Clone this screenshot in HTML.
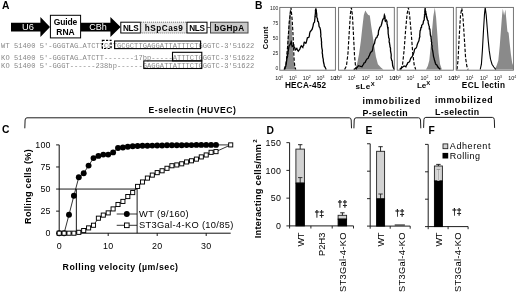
<!DOCTYPE html>
<html><head><meta charset="utf-8"><title>Figure</title>
<style>html,body{margin:0;padding:0;background:#fff}svg{display:block}</style></head>
<body>
<svg width="520" height="294" viewBox="0 0 520 294">
<rect width="520" height="294" fill="#fff"/>
<text x="2" y="9.4" font-family='"Liberation Sans", sans-serif' font-size="10.3" font-weight="bold" text-anchor="start" fill="#000" >A</text>
<polygon points="11,22.8 40.4,22.8 40.4,17 50,27.1 40.4,37.1 40.4,31.6 11,31.6" fill="#000"/>
<text x="28" y="30.3" font-family='"Liberation Sans", sans-serif' font-size="9.3" font-weight="normal" text-anchor="middle" fill="#fff" >U6</text>
<rect x="50.4" y="15.3" width="30.2" height="22.6" fill="#fff" stroke="#000" stroke-width="1"/>
<text x="65.5" y="24.8" font-family='"Liberation Sans", sans-serif' font-size="8.5" font-weight="bold" text-anchor="middle" fill="#000" textLength="23.5" lengthAdjust="spacing" >Guide</text>
<text x="65.5" y="35.2" font-family='"Liberation Sans", sans-serif' font-size="8.5" font-weight="bold" text-anchor="middle" fill="#000" textLength="18.5" lengthAdjust="spacing" >RNA</text>
<polygon points="81,22.8 110.4,22.8 110.4,17 120.6,27.1 110.4,37.1 110.4,31.6 81,31.6" fill="#000"/>
<text x="98" y="30.3" font-family='"Liberation Sans", sans-serif' font-size="9" font-weight="normal" text-anchor="middle" fill="#fff" >CBh</text>
<rect x="120.8" y="22.2" width="19.6" height="10.8" fill="#fff" stroke="#000" stroke-width="1"/>
<text x="130.8" y="30.8" font-family='"Liberation Sans", sans-serif' font-size="8.2" font-weight="bold" text-anchor="middle" fill="#000" textLength="15.7" lengthAdjust="spacing" >NLS</text>
<rect x="140.9" y="22.2" width="45.8" height="10.8" fill="#e6e6e6" stroke="#555" stroke-width="0.9" stroke-dasharray="1 1"/>
<text x="163.8" y="30.8" font-family='"Liberation Sans", sans-serif' font-size="8.2" font-weight="bold" text-anchor="middle" fill="#000" textLength="38" lengthAdjust="spacing" >hSpCas9</text>
<rect x="187" y="22.2" width="20" height="10.8" fill="#fff" stroke="#000" stroke-width="1"/>
<text x="197" y="30.8" font-family='"Liberation Sans", sans-serif' font-size="8.2" font-weight="bold" text-anchor="middle" fill="#000" textLength="15.7" lengthAdjust="spacing" >NLS</text>
<line x1="207" y1="27.5" x2="210.5" y2="27.5" stroke="#333" stroke-width="0.8"/>
<rect x="210.5" y="22.2" width="37.5" height="10.8" fill="#c8c8c8" stroke="#444" stroke-width="1"/>
<text x="229.2" y="30.8" font-family='"Liberation Sans", sans-serif' font-size="8.2" font-weight="bold" text-anchor="middle" fill="#000" textLength="30" lengthAdjust="spacing" >bGHpA</text>
<text x="1.1" y="48.2" font-family='"Liberation Mono", monospace' font-size="7.1" font-weight="normal" text-anchor="start" fill="#888" textLength="253.1" lengthAdjust="spacing" >WT 51400 5'-GGGTAG…ATCTTCCTGCGCTTGAGGATTATTTCTGGGTC-3'51622</text>
<text x="1.1" y="60.0" font-family='"Liberation Mono", monospace' font-size="7.1" font-weight="normal" text-anchor="start" fill="#888" textLength="253.1" lengthAdjust="spacing" >KO 51400 5'-GGGTAG…ATCTT-------17bp-----ATTTCTGGGTC-3'51622</text>
<text x="1.1" y="68.3" font-family='"Liberation Mono", monospace' font-size="7.1" font-weight="normal" text-anchor="start" fill="#888" textLength="253.1" lengthAdjust="spacing" >KO 51400 5'-GGGT------238bp------GAGGATTATTTCTGGGTC-3'51622</text>
<rect x="102.4" y="40.3" width="8.6" height="8.2" fill="none" stroke="#000" stroke-width="1.2" stroke-dasharray="2.2 1.4"/>
<rect x="114.6" y="41" width="86" height="7.6" fill="none" stroke="#000" stroke-width="1.1"/>
<rect x="172.5" y="52.3" width="29.3" height="8.6" fill="none" stroke="#000" stroke-width="1.1"/>
<rect x="143.8" y="60.9" width="58" height="7.6" fill="none" stroke="#000" stroke-width="1.1"/>
<text x="255" y="9.4" font-family='"Liberation Sans", sans-serif' font-size="10.3" font-weight="bold" text-anchor="start" fill="#000" >B</text>
<text x="267.6" y="37.8" font-family='"Liberation Sans", sans-serif' font-size="7.4" font-weight="bold" text-anchor="middle" fill="#000" textLength="22.7" lengthAdjust="spacing" transform="rotate(-90 267.6 37.8)" >Count</text>
<text x="278.4" y="9.700000000000006" font-family='"Liberation Sans", sans-serif' font-size="5" font-weight="normal" text-anchor="end" fill="#222" >100</text>
<text x="278.4" y="24.775000000000002" font-family='"Liberation Sans", sans-serif' font-size="5" font-weight="normal" text-anchor="end" fill="#222" >75</text>
<text x="278.4" y="39.85" font-family='"Liberation Sans", sans-serif' font-size="5" font-weight="normal" text-anchor="end" fill="#222" >50</text>
<text x="278.4" y="54.925" font-family='"Liberation Sans", sans-serif' font-size="5" font-weight="normal" text-anchor="end" fill="#222" >25</text>
<text x="278.4" y="70.0" font-family='"Liberation Sans", sans-serif' font-size="5" font-weight="normal" text-anchor="end" fill="#222" >0</text>
<polygon points="283.4,69.5 285.2,66.0 286.7,54.2 288.0,32.7 289.2,15.1 290.2,7.6 291.2,17.6 292.2,35.3 293.2,54.2 294.3,65.0 295.5,69.5" fill="#8a8a8a"/>
<polyline points="284.7,69.5 286.2,63.0 287.7,45.3 289.2,22.7 291.0,7.6 292.2,20.2 293.2,37.8 294.0,57.9 294.8,66.8 295.8,69.5" fill="none" stroke="#000" stroke-width="1.15" stroke-dasharray="3.4 1.7"/>
<polyline points="284.2,69.5 284.8,68.3 285.2,66.8 285.9,66.0 285.9,65.0 286.3,63.4 286.6,61.0 286.8,59.6 286.8,58.3 287.2,57.9 287.6,56.3 287.5,54.2 288.1,53.9 288.0,52.3 288.1,51.8 288.4,50.1 288.7,47.9 289.2,45.6 290.0,44.8 290.8,42.8 291.2,41.6 291.6,42.5 291.8,45.2 292.2,46.6 293.8,45.3 294.0,47.0 294.6,47.4 295.3,49.9 296.8,48.4 297.5,50.1 298.3,51.1 299.8,49.1 300.6,47.1 301.3,45.8 302.8,47.4 303.1,46.0 303.7,45.5 304.0,43.0 304.3,42.3 305.8,43.3 306.4,42.0 306.5,41.1 306.8,40.2 307.4,37.8 308.9,37.3 309.4,35.7 309.6,33.6 310.1,31.9 310.4,31.5 311.9,29.7 312.3,28.9 312.6,27.7 313.1,25.8 313.4,23.9 313.8,22.8 314.5,22.2 314.7,20.2 314.9,18.8 315.0,16.6 315.3,16.5 315.1,15.6 315.4,13.3 315.5,11.2 315.4,10.2 315.9,8.7 315.9,8.3 315.9,8.8 316.4,10.7 316.3,11.4 316.7,13.7 316.8,15.7 316.7,15.8 316.9,17.6 317.5,18.6 317.6,21.2 318.2,21.4 318.4,22.1 318.8,23.7 319.0,26.0 319.4,27.2 319.9,27.6 320.5,30.2 320.6,31.4 320.8,34.1 320.9,34.5 320.7,36.3 321.2,38.2 321.4,39.6 321.3,39.9 321.5,41.6 321.6,42.1 321.5,43.4 321.6,45.1 321.7,46.8 321.8,47.5 322.1,49.1 322.4,50.3 322.2,53.0 322.5,54.2 322.6,55.1 322.7,56.8 323.3,59.3 323.3,60.0 323.3,60.6 323.7,63.0 324.0,64.0 324.4,66.4 325.0,67.0 325.6,68.3 326.2,69.5" fill="none" stroke="#000" stroke-width="1.3"/>
<polygon points="354.5,69.5 357.0,64.2 359.0,54.2 360.8,41.6 362.3,27.7 363.8,15.1 365.3,10.6 366.8,13.1 368.3,15.1 369.8,15.6 371.1,25.2 372.6,35.3 374.1,45.3 375.9,56.7 377.9,64.2 380.9,67.5 383.4,69.5" fill="#8a8a8a"/>
<polyline points="344.6,69.5 346.4,66.0 347.9,54.2 349.2,32.7 350.4,13.9 351.4,7.6 352.4,15.1 353.5,35.3 354.5,55.4 355.5,66.0 356.7,69.5" fill="none" stroke="#000" stroke-width="1.15" stroke-dasharray="3.4 1.7"/>
<polyline points="353.7,69.5 355.3,68.5 357.0,67.5 358.5,65.7 359.5,66.0 360.6,66.4 362.0,66.8 362.5,65.6 363.6,64.3 364.0,63.0 365.1,62.5 366.0,60.5 367.0,58.9 368.1,58.4 368.8,56.3 369.4,55.7 369.8,54.2 370.6,52.5 371.6,51.6 372.2,51.1 372.5,49.9 372.8,48.6 373.1,46.6 373.9,44.4 374.6,43.3 374.8,41.6 375.3,39.5 375.8,38.6 376.1,37.8 376.9,37.5 377.6,35.3 378.3,34.8 378.3,33.5 378.6,30.5 379.1,29.7 379.8,27.4 380.7,26.4 381.2,25.5 381.4,24.7 381.9,23.0 382.2,21.4 382.9,19.2 383.4,18.9 383.9,18.5 384.1,16.9 384.4,15.1 384.8,16.0 385.1,17.9 385.1,20.9 385.4,21.4 386.4,20.2 387.0,21.6 387.0,24.0 387.5,25.2 387.4,25.8 387.9,29.0 388.1,28.7 388.1,32.0 388.2,32.1 388.1,33.0 388.5,35.3 388.7,37.8 389.1,38.3 389.3,39.7 389.1,42.0 389.5,42.8 389.6,43.8 389.9,45.3 390.0,46.8 390.5,48.1 390.5,50.4 390.6,51.5 391.0,53.4 391.2,54.5 391.2,56.1 391.1,57.6 391.4,58.9 391.7,60.5 392.2,60.9 392.4,62.9 392.7,65.7 393.0,66.8 393.6,68.1 394.3,69.5" fill="none" stroke="#000" stroke-width="1.3"/>
<polygon points="426.0,69.5 427.8,66.0 429.3,60.5 430.8,45.3 432.1,30.2 433.3,16.4 434.8,7.6 436.1,17.6 437.4,35.3 438.6,52.9 440.1,64.2 441.9,69.5" fill="#8a8a8a"/>
<polyline points="400.8,69.5 402.6,64.2 404.1,50.4 405.6,30.2 407.1,13.9 408.4,7.6 409.6,15.1 411.2,32.7 412.7,52.9 414.2,65.0 415.7,69.5" fill="none" stroke="#000" stroke-width="1.15" stroke-dasharray="3.4 1.7"/>
<polyline points="399.6,69.5 400.8,68.5 402.1,67.5 404.1,66.0 405.9,66.8 406.5,65.1 407.2,64.4 407.6,63.0 409.6,61.7 410.3,59.4 410.7,58.3 411.4,57.4 412.3,56.4 413.2,54.2 413.7,53.0 413.9,52.5 414.3,50.6 414.7,49.1 416.2,47.9 416.8,46.4 417.2,44.7 417.7,43.3 418.4,41.8 418.9,40.9 419.2,39.0 419.3,38.5 419.9,36.2 419.7,35.4 420.0,32.3 420.1,30.8 420.5,30.2 421.0,27.6 421.5,27.5 421.7,25.2 423.0,23.9 423.4,21.6 423.4,21.1 424.2,20.0 424.3,17.6 424.6,15.6 424.5,14.7 424.9,14.6 424.8,11.4 424.9,10.8 425.0,8.8 425.3,8.1 425.2,9.9 425.6,11.0 425.7,11.2 425.9,13.9 426.3,14.0 426.3,16.4 426.9,18.3 427.0,18.0 427.5,20.2 428.1,20.8 428.2,23.0 428.8,25.2 429.3,26.6 429.3,29.0 429.9,29.1 430.1,31.5 430.3,33.1 430.2,33.5 430.6,36.2 431.0,36.3 431.1,39.0 431.3,39.2 431.3,41.6 431.7,42.1 431.6,44.4 432.2,46.1 432.0,46.9 432.2,49.0 432.6,50.4 432.7,50.9 432.9,52.1 433.2,54.0 433.5,56.3 433.7,57.1 434.1,58.4 434.3,59.6 434.7,60.8 435.4,63.3 435.8,64.2 436.8,64.9 437.9,67.0 439.1,68.3 440.4,69.5" fill="none" stroke="#000" stroke-width="1.3"/>
<polygon points="494.5,69.5 496.5,66.0 498.3,60.5 499.8,45.3 501.1,27.7 502.1,15.1 502.8,8.8 504.1,15.6 505.4,9.6 506.4,20.2 507.4,31.5 508.6,32.7 509.6,42.8 510.9,54.2 512.2,63.0 513.4,66.0 513.4,69.5" fill="#8a8a8a"/>
<polyline points="457.0,69.5 458.0,60.5 459.3,35.3 460.5,15.1 461.8,8.3 463.0,17.6 464.3,37.8 465.6,57.9 466.8,66.0 468.1,69.5" fill="none" stroke="#000" stroke-width="1.15" stroke-dasharray="3.4 1.7"/>
<polyline points="480.2,69.5 481.4,64.2 482.4,50.4 483.5,30.2 484.5,13.9 485.2,7.6 486.2,15.1 487.2,27.7 488.2,40.3 489.2,50.4 490.5,59.2 492.0,64.2 493.8,67.0 495.8,69.5" fill="none" stroke="#000" stroke-width="1.1"/>
<rect x="279.8" y="7.4" width="55.6" height="62.8" fill="none" stroke="#666" stroke-width="0.9"/>
<text x="279.2" y="79.6" font-family='"Liberation Sans", sans-serif' font-size="5.4" text-anchor="middle" fill="#111">10<tspan dy="-1.9" font-size="3.4">0</tspan></text>
<text x="292.9" y="79.6" font-family='"Liberation Sans", sans-serif' font-size="5.4" text-anchor="middle" fill="#111">10<tspan dy="-1.9" font-size="3.4">1</tspan></text>
<text x="306.7" y="79.6" font-family='"Liberation Sans", sans-serif' font-size="5.4" text-anchor="middle" fill="#111">10<tspan dy="-1.9" font-size="3.4">2</tspan></text>
<text x="320.4" y="79.6" font-family='"Liberation Sans", sans-serif' font-size="5.4" text-anchor="middle" fill="#111">10<tspan dy="-1.9" font-size="3.4">3</tspan></text>
<text x="334.2" y="79.6" font-family='"Liberation Sans", sans-serif' font-size="5.4" text-anchor="middle" fill="#111">10<tspan dy="-1.9" font-size="3.4">4</tspan></text>
<rect x="338.6" y="7.4" width="55.7" height="62.8" fill="none" stroke="#666" stroke-width="0.9"/>
<text x="338.0" y="79.6" font-family='"Liberation Sans", sans-serif' font-size="5.4" text-anchor="middle" fill="#111">10<tspan dy="-1.9" font-size="3.4">0</tspan></text>
<text x="351.8" y="79.6" font-family='"Liberation Sans", sans-serif' font-size="5.4" text-anchor="middle" fill="#111">10<tspan dy="-1.9" font-size="3.4">1</tspan></text>
<text x="365.6" y="79.6" font-family='"Liberation Sans", sans-serif' font-size="5.4" text-anchor="middle" fill="#111">10<tspan dy="-1.9" font-size="3.4">2</tspan></text>
<text x="379.3" y="79.6" font-family='"Liberation Sans", sans-serif' font-size="5.4" text-anchor="middle" fill="#111">10<tspan dy="-1.9" font-size="3.4">3</tspan></text>
<text x="393.1" y="79.6" font-family='"Liberation Sans", sans-serif' font-size="5.4" text-anchor="middle" fill="#111">10<tspan dy="-1.9" font-size="3.4">4</tspan></text>
<rect x="397.2" y="7.4" width="56.2" height="62.8" fill="none" stroke="#666" stroke-width="0.9"/>
<text x="396.6" y="79.6" font-family='"Liberation Sans", sans-serif' font-size="5.4" text-anchor="middle" fill="#111">10<tspan dy="-1.9" font-size="3.4">0</tspan></text>
<text x="410.5" y="79.6" font-family='"Liberation Sans", sans-serif' font-size="5.4" text-anchor="middle" fill="#111">10<tspan dy="-1.9" font-size="3.4">1</tspan></text>
<text x="424.4" y="79.6" font-family='"Liberation Sans", sans-serif' font-size="5.4" text-anchor="middle" fill="#111">10<tspan dy="-1.9" font-size="3.4">2</tspan></text>
<text x="438.3" y="79.6" font-family='"Liberation Sans", sans-serif' font-size="5.4" text-anchor="middle" fill="#111">10<tspan dy="-1.9" font-size="3.4">3</tspan></text>
<text x="452.2" y="79.6" font-family='"Liberation Sans", sans-serif' font-size="5.4" text-anchor="middle" fill="#111">10<tspan dy="-1.9" font-size="3.4">4</tspan></text>
<rect x="456.2" y="7.4" width="57.2" height="62.8" fill="none" stroke="#666" stroke-width="0.9"/>
<text x="455.6" y="79.6" font-family='"Liberation Sans", sans-serif' font-size="5.4" text-anchor="middle" fill="#111">10<tspan dy="-1.9" font-size="3.4">0</tspan></text>
<text x="469.7" y="79.6" font-family='"Liberation Sans", sans-serif' font-size="5.4" text-anchor="middle" fill="#111">10<tspan dy="-1.9" font-size="3.4">1</tspan></text>
<text x="483.9" y="79.6" font-family='"Liberation Sans", sans-serif' font-size="5.4" text-anchor="middle" fill="#111">10<tspan dy="-1.9" font-size="3.4">2</tspan></text>
<text x="498.0" y="79.6" font-family='"Liberation Sans", sans-serif' font-size="5.4" text-anchor="middle" fill="#111">10<tspan dy="-1.9" font-size="3.4">3</tspan></text>
<text x="512.2" y="79.6" font-family='"Liberation Sans", sans-serif' font-size="5.4" text-anchor="middle" fill="#111">10<tspan dy="-1.9" font-size="3.4">4</tspan></text>
<text x="305.5" y="87.5" font-family='"Liberation Sans", sans-serif' font-size="8.2" font-weight="bold" text-anchor="middle" fill="#000" textLength="41" lengthAdjust="spacing" >HECA-452</text>
<text x="355.4" y="89.1" font-family='"Liberation Sans", sans-serif' font-size="8.1" font-weight="bold" fill="#000" textLength="19.2" lengthAdjust="spacing">sLe<tspan dy="-2.9" font-size="5.9">X</tspan></text>
<text x="416.9" y="88.1" font-family='"Liberation Sans", sans-serif' font-size="8.1" font-weight="bold" fill="#000" textLength="13.2" lengthAdjust="spacing">Le<tspan dy="-2.9" font-size="5.9">X</tspan></text>
<text x="483.4" y="87.5" font-family='"Liberation Sans", sans-serif' font-size="8.2" font-weight="bold" text-anchor="middle" fill="#000" textLength="43.2" lengthAdjust="spacing" >ECL lectin</text>
<text x="192.2" y="112.6" font-family='"Liberation Sans", sans-serif' font-size="8.6" font-weight="bold" text-anchor="middle" fill="#000" textLength="87.3" lengthAdjust="spacing" >E-selectin (HUVEC)</text>
<text x="362.4" y="104" font-family='"Liberation Sans", sans-serif' font-size="8.8" font-weight="bold" text-anchor="start" fill="#000" textLength="57.9" lengthAdjust="spacing" >immobilized</text>
<text x="362.4" y="115.6" font-family='"Liberation Sans", sans-serif' font-size="8.8" font-weight="bold" text-anchor="start" fill="#000" textLength="45.3" lengthAdjust="spacing" >P-selectin</text>
<text x="435" y="103.3" font-family='"Liberation Sans", sans-serif' font-size="8.8" font-weight="bold" text-anchor="start" fill="#000" textLength="57.6" lengthAdjust="spacing" >immobilized</text>
<text x="435" y="115.3" font-family='"Liberation Sans", sans-serif' font-size="8.8" font-weight="bold" text-anchor="start" fill="#000" textLength="44.1" lengthAdjust="spacing" >L-selectin</text>
<path d="M24.8,128.3 L25.1,120.0 Q25.3,117.8 27.0,117.8 L349.3,117.8 Q351.0,117.8 351.2,120.0 L351.5,128.3" fill="none" stroke="#111" stroke-width="0.95"/>
<path d="M353.9,128.3 L354.2,120.0 Q354.4,117.8 356.09999999999997,117.8 L418.6,117.8 Q420.3,117.8 420.5,120.0 L420.8,128.3" fill="none" stroke="#111" stroke-width="0.95"/>
<path d="M423.6,127.9 L423.90000000000003,119.60000000000001 Q424.1,117.4 425.8,117.4 L492.40000000000003,117.4 Q494.1,117.4 494.3,119.60000000000001 L494.6,127.9" fill="none" stroke="#111" stroke-width="0.95"/>
<text x="2" y="133.2" font-family='"Liberation Sans", sans-serif' font-size="10.3" font-weight="bold" text-anchor="start" fill="#000" >C</text>
<path d="M59.2,144.89999999999998 L59.2,233.2 L230.7,233.2" fill="none" stroke="#000" stroke-width="0.95"/>
<line x1="56.1" y1="233.2" x2="59.2" y2="233.2" stroke="#000" stroke-width="0.9"/>
<text x="50.4" y="236.39999999999998" font-family='"Liberation Sans", sans-serif' font-size="8.9" font-weight="normal" text-anchor="end" fill="#000" >0</text>
<line x1="56.1" y1="211.125" x2="59.2" y2="211.125" stroke="#000" stroke-width="0.9"/>
<text x="50.4" y="214.325" font-family='"Liberation Sans", sans-serif' font-size="8.9" font-weight="normal" text-anchor="end" fill="#000" textLength="10.0" lengthAdjust="spacing" >25</text>
<line x1="56.1" y1="189.04999999999998" x2="59.2" y2="189.04999999999998" stroke="#000" stroke-width="0.9"/>
<text x="50.4" y="192.24999999999997" font-family='"Liberation Sans", sans-serif' font-size="8.9" font-weight="normal" text-anchor="end" fill="#000" textLength="10.0" lengthAdjust="spacing" >50</text>
<line x1="56.1" y1="166.975" x2="59.2" y2="166.975" stroke="#000" stroke-width="0.9"/>
<text x="50.4" y="170.17499999999998" font-family='"Liberation Sans", sans-serif' font-size="8.9" font-weight="normal" text-anchor="end" fill="#000" textLength="10.0" lengthAdjust="spacing" >75</text>
<line x1="56.1" y1="144.89999999999998" x2="59.2" y2="144.89999999999998" stroke="#000" stroke-width="0.9"/>
<text x="50.4" y="148.09999999999997" font-family='"Liberation Sans", sans-serif' font-size="8.9" font-weight="normal" text-anchor="end" fill="#000" textLength="15.1" lengthAdjust="spacing" >100</text>
<line x1="108.2" y1="233.2" x2="108.2" y2="236.0" stroke="#000" stroke-width="0.9"/>
<line x1="157.2" y1="233.2" x2="157.2" y2="236.0" stroke="#000" stroke-width="0.9"/>
<line x1="206.2" y1="233.2" x2="206.2" y2="236.0" stroke="#000" stroke-width="0.9"/>
<text x="59.2" y="248.6" font-family='"Liberation Sans", sans-serif' font-size="8.9" font-weight="normal" text-anchor="middle" fill="#000" >0</text>
<text x="108.2" y="248.6" font-family='"Liberation Sans", sans-serif' font-size="8.9" font-weight="normal" text-anchor="middle" fill="#000" textLength="10.2" lengthAdjust="spacing" >10</text>
<text x="157.2" y="248.6" font-family='"Liberation Sans", sans-serif' font-size="8.9" font-weight="normal" text-anchor="middle" fill="#000" textLength="10.2" lengthAdjust="spacing" >20</text>
<text x="206.2" y="248.6" font-family='"Liberation Sans", sans-serif' font-size="8.9" font-weight="normal" text-anchor="middle" fill="#000" textLength="10.2" lengthAdjust="spacing" >30</text>
<text x="31.0" y="186.6" font-family='"Liberation Sans", sans-serif' font-size="9.1" font-weight="bold" text-anchor="middle" fill="#000" textLength="74.6" lengthAdjust="spacing" transform="rotate(-90 31.0 186.6)" >Rolling cells (%)</text>
<text x="120.3" y="269.6" font-family='"Liberation Sans", sans-serif' font-size="8.8" font-weight="bold" text-anchor="middle" fill="#000" textLength="115.5" lengthAdjust="spacing" >Rolling velocity (µm/sec)</text>
<path d="M59.2,189.04999999999998 L137.11,189.04999999999998 L137.11,233.2" fill="none" stroke="#000" stroke-width="0.9"/>
<line x1="76.35000000000001" y1="189.04999999999998" x2="76.35000000000001" y2="233.2" stroke="#000" stroke-width="0.9"/>
<polyline points="59.2,233.2 64.1,233.2 69.0,214.7 73.9,195.7 78.8,177.2 83.7,173.2 88.6,165.6 93.5,158.1 98.4,155.9 103.3,154.6 108.2,154.6 113.1,152.4 118.0,148.0 122.9,147.5 127.8,146.7 132.7,146.2 137.6,146.0 142.5,145.8 147.4,145.8 152.3,145.6 157.2,145.5 162.1,145.5 167.0,145.3 171.9,145.3 176.8,145.3 181.7,145.2 186.6,145.1 191.5,145.1 196.4,144.9 201.3,144.9 206.2,144.9 211.1,144.9 216.0,144.9 230.7,144.9" fill="none" stroke="#000" stroke-width="0.8"/>
<circle cx="59.2" cy="233.2" r="2.95" fill="#000"/>
<circle cx="64.1" cy="233.2" r="2.95" fill="#000"/>
<circle cx="69.0" cy="214.7" r="2.95" fill="#000"/>
<circle cx="73.9" cy="195.7" r="2.95" fill="#000"/>
<circle cx="78.8" cy="177.2" r="2.95" fill="#000"/>
<circle cx="83.7" cy="173.2" r="2.95" fill="#000"/>
<circle cx="88.6" cy="165.6" r="2.95" fill="#000"/>
<circle cx="93.5" cy="158.1" r="2.95" fill="#000"/>
<circle cx="98.4" cy="155.9" r="2.95" fill="#000"/>
<circle cx="103.3" cy="154.6" r="2.95" fill="#000"/>
<circle cx="108.2" cy="154.6" r="2.95" fill="#000"/>
<circle cx="113.1" cy="152.4" r="2.95" fill="#000"/>
<circle cx="118.0" cy="148.0" r="2.95" fill="#000"/>
<circle cx="122.9" cy="147.5" r="2.95" fill="#000"/>
<circle cx="127.8" cy="146.7" r="2.95" fill="#000"/>
<circle cx="132.7" cy="146.2" r="2.95" fill="#000"/>
<circle cx="137.6" cy="146.0" r="2.95" fill="#000"/>
<circle cx="142.5" cy="145.8" r="2.95" fill="#000"/>
<circle cx="147.4" cy="145.8" r="2.95" fill="#000"/>
<circle cx="152.3" cy="145.6" r="2.95" fill="#000"/>
<circle cx="157.2" cy="145.5" r="2.95" fill="#000"/>
<circle cx="162.1" cy="145.5" r="2.95" fill="#000"/>
<circle cx="167.0" cy="145.3" r="2.95" fill="#000"/>
<circle cx="171.9" cy="145.3" r="2.95" fill="#000"/>
<circle cx="176.8" cy="145.3" r="2.95" fill="#000"/>
<circle cx="181.7" cy="145.2" r="2.95" fill="#000"/>
<circle cx="186.6" cy="145.1" r="2.95" fill="#000"/>
<circle cx="191.5" cy="145.1" r="2.95" fill="#000"/>
<circle cx="196.4" cy="144.9" r="2.95" fill="#000"/>
<circle cx="201.3" cy="144.9" r="2.95" fill="#000"/>
<circle cx="206.2" cy="144.9" r="2.95" fill="#000"/>
<circle cx="211.1" cy="144.9" r="2.95" fill="#000"/>
<circle cx="216.0" cy="144.9" r="2.95" fill="#000"/>
<polyline points="59.2,233.2 64.1,233.2 69.0,233.2 73.9,233.2 78.8,232.3 83.7,230.6 88.6,227.9 93.5,225.3 98.4,218.2 103.3,215.1 108.2,212.9 113.1,208.9 118.0,204.5 122.9,201.4 127.8,196.6 132.7,192.6 137.6,186.4 142.5,182.0 147.4,178.1 152.3,175.1 157.2,172.6 162.1,170.8 167.0,168.3 171.9,165.7 176.8,164.9 181.7,163.8 186.6,161.9 191.5,160.8 196.4,159.1 201.3,156.9 206.2,155.0 211.1,152.3 216.0,151.6 230.7,144.9" fill="none" stroke="#000" stroke-width="0.8"/>
<rect x="57.15" y="231.15" width="4.1" height="4.1" fill="#fff" stroke="#000" stroke-width="0.95"/>
<rect x="62.05" y="231.15" width="4.1" height="4.1" fill="#fff" stroke="#000" stroke-width="0.95"/>
<rect x="66.95" y="231.15" width="4.1" height="4.1" fill="#fff" stroke="#000" stroke-width="0.95"/>
<rect x="71.85" y="231.15" width="4.1" height="4.1" fill="#fff" stroke="#000" stroke-width="0.95"/>
<rect x="76.75" y="230.27" width="4.1" height="4.1" fill="#fff" stroke="#000" stroke-width="0.95"/>
<rect x="81.65" y="228.50" width="4.1" height="4.1" fill="#fff" stroke="#000" stroke-width="0.95"/>
<rect x="86.55" y="225.85" width="4.1" height="4.1" fill="#fff" stroke="#000" stroke-width="0.95"/>
<rect x="91.45" y="223.20" width="4.1" height="4.1" fill="#fff" stroke="#000" stroke-width="0.95"/>
<rect x="96.35" y="216.14" width="4.1" height="4.1" fill="#fff" stroke="#000" stroke-width="0.95"/>
<rect x="101.25" y="213.05" width="4.1" height="4.1" fill="#fff" stroke="#000" stroke-width="0.95"/>
<rect x="106.15" y="210.84" width="4.1" height="4.1" fill="#fff" stroke="#000" stroke-width="0.95"/>
<rect x="111.05" y="206.87" width="4.1" height="4.1" fill="#fff" stroke="#000" stroke-width="0.95"/>
<rect x="115.95" y="202.45" width="4.1" height="4.1" fill="#fff" stroke="#000" stroke-width="0.95"/>
<rect x="120.85" y="199.36" width="4.1" height="4.1" fill="#fff" stroke="#000" stroke-width="0.95"/>
<rect x="125.75" y="194.51" width="4.1" height="4.1" fill="#fff" stroke="#000" stroke-width="0.95"/>
<rect x="130.65" y="190.53" width="4.1" height="4.1" fill="#fff" stroke="#000" stroke-width="0.95"/>
<rect x="135.55" y="184.35" width="4.1" height="4.1" fill="#fff" stroke="#000" stroke-width="0.95"/>
<rect x="140.45" y="179.94" width="4.1" height="4.1" fill="#fff" stroke="#000" stroke-width="0.95"/>
<rect x="145.35" y="176.05" width="4.1" height="4.1" fill="#fff" stroke="#000" stroke-width="0.95"/>
<rect x="150.25" y="173.05" width="4.1" height="4.1" fill="#fff" stroke="#000" stroke-width="0.95"/>
<rect x="155.15" y="170.58" width="4.1" height="4.1" fill="#fff" stroke="#000" stroke-width="0.95"/>
<rect x="160.05" y="168.72" width="4.1" height="4.1" fill="#fff" stroke="#000" stroke-width="0.95"/>
<rect x="164.95" y="166.25" width="4.1" height="4.1" fill="#fff" stroke="#000" stroke-width="0.95"/>
<rect x="169.85" y="163.69" width="4.1" height="4.1" fill="#fff" stroke="#000" stroke-width="0.95"/>
<rect x="174.75" y="162.89" width="4.1" height="4.1" fill="#fff" stroke="#000" stroke-width="0.95"/>
<rect x="179.65" y="161.75" width="4.1" height="4.1" fill="#fff" stroke="#000" stroke-width="0.95"/>
<rect x="184.55" y="159.89" width="4.1" height="4.1" fill="#fff" stroke="#000" stroke-width="0.95"/>
<rect x="189.45" y="158.74" width="4.1" height="4.1" fill="#fff" stroke="#000" stroke-width="0.95"/>
<rect x="194.35" y="157.07" width="4.1" height="4.1" fill="#fff" stroke="#000" stroke-width="0.95"/>
<rect x="199.25" y="154.86" width="4.1" height="4.1" fill="#fff" stroke="#000" stroke-width="0.95"/>
<rect x="204.15" y="152.92" width="4.1" height="4.1" fill="#fff" stroke="#000" stroke-width="0.95"/>
<rect x="209.05" y="150.27" width="4.1" height="4.1" fill="#fff" stroke="#000" stroke-width="0.95"/>
<rect x="213.95" y="149.56" width="4.1" height="4.1" fill="#fff" stroke="#000" stroke-width="0.95"/>
<rect x="228.65" y="142.85" width="4.1" height="4.1" fill="#fff" stroke="#000" stroke-width="0.95"/>
<line x1="116.7" y1="214" x2="137" y2="214" stroke="#000" stroke-width="0.8"/>
<circle cx="126.8" cy="214" r="2.95" fill="#000"/>
<line x1="116.7" y1="225.3" x2="137" y2="225.3" stroke="#000" stroke-width="0.8"/>
<rect x="124.5" y="223.0" width="4.6" height="4.6" fill="#fff" stroke="#000" stroke-width="0.95"/>
<text x="139" y="216.8" font-family='"Liberation Sans", sans-serif' font-size="9.3" font-weight="normal" text-anchor="start" fill="#000" textLength="49.6" lengthAdjust="spacing" >WT (9/160)</text>
<text x="139" y="228.1" font-family='"Liberation Sans", sans-serif' font-size="9.3" font-weight="normal" text-anchor="start" fill="#000" textLength="94.4" lengthAdjust="spacing" >ST3Gal-4-KO (10/85)</text>
<text x="266.4" y="133.8" font-family='"Liberation Sans", sans-serif' font-size="10.3" font-weight="bold" text-anchor="start" fill="#000" >D</text>
<text x="365.4" y="133.8" font-family='"Liberation Sans", sans-serif' font-size="10.3" font-weight="bold" text-anchor="start" fill="#000" >E</text>
<text x="428.6" y="133.8" font-family='"Liberation Sans", sans-serif' font-size="10.3" font-weight="bold" text-anchor="start" fill="#000" >F</text>
<path d="M289.6,142.65 L289.6,225.9 L353.5,225.9" fill="none" stroke="#111" stroke-width="0.95"/>
<line x1="286.40000000000003" y1="225.90" x2="289.6" y2="225.90" stroke="#111" stroke-width="0.9"/>
<text x="281.0" y="229.1" font-family='"Liberation Sans", sans-serif' font-size="8.9" font-weight="normal" text-anchor="end" fill="#000" >0</text>
<line x1="286.40000000000003" y1="198.15" x2="289.6" y2="198.15" stroke="#111" stroke-width="0.9"/>
<text x="281.0" y="201.35" font-family='"Liberation Sans", sans-serif' font-size="8.9" font-weight="normal" text-anchor="end" fill="#000" textLength="10.2" lengthAdjust="spacing" >50</text>
<line x1="286.40000000000003" y1="170.40" x2="289.6" y2="170.40" stroke="#111" stroke-width="0.9"/>
<text x="281.0" y="173.6" font-family='"Liberation Sans", sans-serif' font-size="8.9" font-weight="normal" text-anchor="end" fill="#000" textLength="15.6" lengthAdjust="spacing" >100</text>
<line x1="286.40000000000003" y1="142.65" x2="289.6" y2="142.65" stroke="#111" stroke-width="0.9"/>
<text x="281.0" y="145.85" font-family='"Liberation Sans", sans-serif' font-size="8.9" font-weight="normal" text-anchor="end" fill="#000" textLength="15.6" lengthAdjust="spacing" >150</text>
<line x1="289.6" y1="225.9" x2="289.6" y2="228.5" stroke="#111" stroke-width="0.9"/>
<line x1="310.9" y1="225.9" x2="310.9" y2="228.5" stroke="#111" stroke-width="0.9"/>
<line x1="332.2" y1="225.9" x2="332.2" y2="228.5" stroke="#111" stroke-width="0.9"/>
<line x1="353.5" y1="225.9" x2="353.5" y2="228.5" stroke="#111" stroke-width="0.9"/>
<rect x="295.9" y="149.1" width="8.5" height="34.0" fill="#d2d2d2" stroke="#222" stroke-width="0.9"/>
<rect x="295.9" y="183.1" width="8.5" height="42.8" fill="#000" stroke="#000" stroke-width="0.9"/>
<path d="M300.2,149.1 L300.2,144.7 M298.0,144.7 L302.4,144.7" stroke="#111" stroke-width="0.9" fill="none"/>
<path d="M300.2,183.1 L300.2,177.6 M298.0,177.6 L302.4,177.6" stroke="#111" stroke-width="0.8" fill="none"/>
<rect x="338.1" y="215.3" width="8.5" height="3.8" fill="#d2d2d2" stroke="#222" stroke-width="0.9"/>
<rect x="338.1" y="219.1" width="8.5" height="6.8" fill="#000" stroke="#000" stroke-width="0.9"/>
<path d="M342.4,215.3 L342.4,212.8 M340.2,212.8 L344.59999999999997,212.8" stroke="#111" stroke-width="0.9" fill="none"/>
<text x="303.9" y="232.6" font-family='"Liberation Sans", sans-serif' font-size="9.3" font-weight="normal" text-anchor="end" fill="#000" textLength="13.8" lengthAdjust="spacing" transform="rotate(-90 303.9 232.6)" >WT</text>
<text x="324.9" y="232.6" font-family='"Liberation Sans", sans-serif' font-size="9.3" font-weight="normal" text-anchor="end" fill="#000" textLength="23.4" lengthAdjust="spacing" transform="rotate(-90 324.9 232.6)" >P2H3</text>
<text x="346.3" y="232.6" font-family='"Liberation Sans", sans-serif' font-size="9.3" font-weight="normal" text-anchor="end" fill="#000" textLength="59.4" lengthAdjust="spacing" transform="rotate(-90 346.3 232.6)" >ST3Gal-4-KO</text>
<text x="319.3" y="217.0" font-family='"Liberation Sans", sans-serif' font-size="8.6" font-weight="normal" text-anchor="middle" fill="#000" stroke="#000" stroke-width="0.25">†‡</text>
<text x="342.4" y="206.5" font-family='"Liberation Sans", sans-serif' font-size="8.6" font-weight="normal" text-anchor="middle" fill="#000" stroke="#000" stroke-width="0.25">†‡</text>
<text x="260.8" y="238.3" font-family='"Liberation Sans", sans-serif' font-size="9.3" font-weight="bold" text-anchor="start" fill="#000" textLength="94.2" lengthAdjust="spacing" transform="rotate(-90 260.8 238.3)" >Interacting cells/mm</text>
<text x="256.8" y="142.8" font-family='"Liberation Sans", sans-serif' font-size="6.2" font-weight="bold" text-anchor="start" fill="#000" transform="rotate(-90 256.8 142.8)" >2</text>
<path d="M370.2,143.75 L370.2,226.1 L410.2,226.1" fill="none" stroke="#111" stroke-width="0.95"/>
<line x1="367.0" y1="226.10" x2="370.2" y2="226.10" stroke="#111" stroke-width="0.9"/>
<line x1="367.0" y1="198.65" x2="370.2" y2="198.65" stroke="#111" stroke-width="0.9"/>
<line x1="367.0" y1="171.20" x2="370.2" y2="171.20" stroke="#111" stroke-width="0.9"/>
<line x1="367.0" y1="143.75" x2="370.2" y2="143.75" stroke="#111" stroke-width="0.9"/>
<line x1="370.2" y1="226.1" x2="370.2" y2="228.7" stroke="#111" stroke-width="0.9"/>
<line x1="390.2" y1="226.1" x2="390.2" y2="228.7" stroke="#111" stroke-width="0.9"/>
<line x1="410.2" y1="226.1" x2="410.2" y2="228.7" stroke="#111" stroke-width="0.9"/>
<rect x="376.6" y="151.3" width="8.0" height="47.6" fill="#d2d2d2" stroke="#222" stroke-width="0.9"/>
<rect x="376.6" y="198.9" width="8.0" height="27.2" fill="#000" stroke="#000" stroke-width="0.9"/>
<path d="M380.55,151.3 L380.55,146.7 M378.35,146.7 L382.75,146.7" stroke="#111" stroke-width="0.9" fill="none"/>
<path d="M380.55,198.9 L380.55,194.0 M378.35,194.0 L382.75,194.0" stroke="#111" stroke-width="0.8" fill="none"/>
<rect x="394.7" y="224.4" width="10.2" height="1.3" fill="#333"/>
<text x="384.1" y="232.6" font-family='"Liberation Sans", sans-serif' font-size="9.3" font-weight="normal" text-anchor="end" fill="#000" textLength="13.8" lengthAdjust="spacing" transform="rotate(-90 384.1 232.6)" >WT</text>
<text x="405.1" y="232.6" font-family='"Liberation Sans", sans-serif' font-size="9.3" font-weight="normal" text-anchor="end" fill="#000" textLength="59.4" lengthAdjust="spacing" transform="rotate(-90 405.1 232.6)" >ST3Gal-4-KO</text>
<text x="399.8" y="215.9" font-family='"Liberation Sans", sans-serif' font-size="8.6" font-weight="normal" text-anchor="middle" fill="#000" stroke="#000" stroke-width="0.25">†‡</text>
<path d="M428.2,144.40 L428.2,226.6 L468.09999999999997,226.6" fill="none" stroke="#111" stroke-width="0.95"/>
<line x1="425.0" y1="226.60" x2="428.2" y2="226.60" stroke="#111" stroke-width="0.9"/>
<line x1="425.0" y1="199.20" x2="428.2" y2="199.20" stroke="#111" stroke-width="0.9"/>
<line x1="425.0" y1="171.80" x2="428.2" y2="171.80" stroke="#111" stroke-width="0.9"/>
<line x1="425.0" y1="144.40" x2="428.2" y2="144.40" stroke="#111" stroke-width="0.9"/>
<line x1="428.2" y1="226.6" x2="428.2" y2="229.2" stroke="#111" stroke-width="0.9"/>
<line x1="448.1" y1="226.6" x2="448.1" y2="229.2" stroke="#111" stroke-width="0.9"/>
<line x1="468.1" y1="226.6" x2="468.1" y2="229.2" stroke="#111" stroke-width="0.9"/>
<rect x="434.4" y="166.0" width="8.0" height="15.0" fill="#d2d2d2" stroke="#222" stroke-width="0.9"/>
<rect x="434.4" y="181.0" width="8.0" height="45.6" fill="#000" stroke="#000" stroke-width="0.9"/>
<path d="M438.4,166.0 L438.4,164.4 M436.2,164.4 L440.59999999999997,164.4" stroke="#111" stroke-width="0.9" fill="none"/>
<path d="M438.4,181.0 L438.4,169.5" stroke="#f4f4f4" stroke-width="1.8" fill="none"/>
<path d="M438.4,181.0 L438.4,169.5 M436.59999999999997,169.5 L440.2,169.5" stroke="#777" stroke-width="0.6" fill="none"/>
<text x="441.7" y="232.6" font-family='"Liberation Sans", sans-serif' font-size="9.3" font-weight="normal" text-anchor="end" fill="#000" textLength="13.8" lengthAdjust="spacing" transform="rotate(-90 441.7 232.6)" >WT</text>
<text x="461.5" y="232.6" font-family='"Liberation Sans", sans-serif' font-size="9.3" font-weight="normal" text-anchor="end" fill="#000" textLength="59.4" lengthAdjust="spacing" transform="rotate(-90 461.5 232.6)" >ST3Gal-4-KO</text>
<text x="456.7" y="214.9" font-family='"Liberation Sans", sans-serif' font-size="8.6" font-weight="normal" text-anchor="middle" fill="#000" stroke="#000" stroke-width="0.25">†‡</text>
<rect x="443.0" y="143.9" width="4.8" height="4.8" fill="#d2d2d2" stroke="#111" stroke-width="0.8"/>
<rect x="442.5" y="152.9" width="5.7" height="5.6" fill="#000"/>
<text x="449.8" y="149.3" font-family='"Liberation Sans", sans-serif' font-size="9" font-weight="normal" text-anchor="start" fill="#000" textLength="40.6" lengthAdjust="spacing" >Adherent</text>
<text x="449.8" y="158.6" font-family='"Liberation Sans", sans-serif' font-size="9" font-weight="normal" text-anchor="start" fill="#000" textLength="30.2" lengthAdjust="spacing" >Rolling</text>
</svg>
</body></html>
